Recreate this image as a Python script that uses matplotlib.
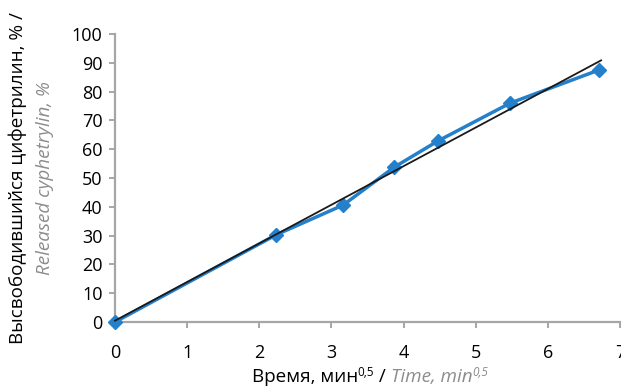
import numpy as np
import matplotlib
matplotlib.use("Agg")
import matplotlib.pyplot as plt

# Release data: time as square root of minutes, released amount in percent
time_sqrt = [0.0, 2.236, 3.162, 3.873, 4.472, 5.477, 6.708]
released = [0.0, 30.3, 40.6, 53.8, 62.8, 76.0, 87.5]

x_ticks = [0, 1, 2, 3, 4, 5, 6, 7]
y_ticks = [0, 10, 20, 30, 40, 50, 60, 70, 80, 90, 100]

FONT = "Open Sans"
BLUE = "#2580cc"
GRAY_TEXT = "#8c8c8c"
AXIS_GRAY = "#a6a6a6"
FS = 13
FS_TITLE = 13.6

plt.rcParams["font.family"] = [FONT, "DejaVu Sans"]

fig = plt.figure(figsize=(6.21, 3.86), dpi=100)
W, H = 621, 386
ax = fig.add_axes([115 / W, 1 - 322 / H, (620 - 115) / W, (322 - 34) / H])

# measured curve
ax.plot(time_sqrt, released, color=BLUE, lw=2.5, marker="D", ms=7,
        mfc=BLUE, mec=BLUE, clip_on=False, zorder=3, solid_joinstyle="round")

# linear trend line through the measured points
slope, intercept = np.polyfit(time_sqrt, released, 1)
xt = np.array([time_sqrt[0], time_sqrt[-1] + 0.03])
ax.plot(xt, slope * xt + intercept, color="#1a1a1a", lw=1.3, zorder=4, clip_on=False)

ax.set_xlim(0, 7)
ax.set_ylim(0, 100)
ax.set_xticks(x_ticks)
ax.set_yticks(y_ticks)
for s in ("top", "right"):
    ax.spines[s].set_visible(False)
for s in ("left", "bottom"):
    ax.spines[s].set_color(AXIS_GRAY)
    ax.spines[s].set_linewidth(1.6)
ax.tick_params(axis="both", colors=AXIS_GRAY, width=1.4, length=4,
               labelcolor="black", labelsize=FS)
ax.tick_params(axis="x", pad=12)
ax.tick_params(axis="y", pad=5)

# y-axis title: Russian line and English line
fig.text(18 / W, 1 - 178 / H, "Высвободившийся цифетрилин, % /", rotation=90,
         ha="center", va="center", fontsize=FS_TITLE, color="black")
fig.text(45 / W, 1 - 178 / H, "Released cyphetrylin, %", rotation=90,
         ha="center", va="center", fontsize=FS_TITLE, color=GRAY_TEXT, style="italic")

# x-axis title assembled from pieces with superscripts
pieces = [
    ("Время, мин", "black", "normal", False),
    ("0,5", "black", "normal", True),
    (" / ", "black", "normal", False),
    ("Time, min", GRAY_TEXT, "italic", False),
    ("0,5", GRAY_TEXT, "italic", True),
]
fig.canvas.draw()
renderer = fig.canvas.get_renderer()
base_y = 1 - 382 / H
texts = []
widths = []
for s, c, st, sup in pieces:
    t = fig.text(0, base_y + (6 / H if sup else 0), s, color=c, style=st,
                 fontsize=FS_TITLE * 0.62 if sup else FS_TITLE, ha="left", va="baseline")
    bb = t.get_window_extent(renderer)
    texts.append(t)
    widths.append(bb.width)
total = sum(widths)
x0 = 370 - total / 2
for t, w in zip(texts, widths):
    t.set_x(x0 / W)
    x0 += w

fig.savefig("out.png", dpi=100)
